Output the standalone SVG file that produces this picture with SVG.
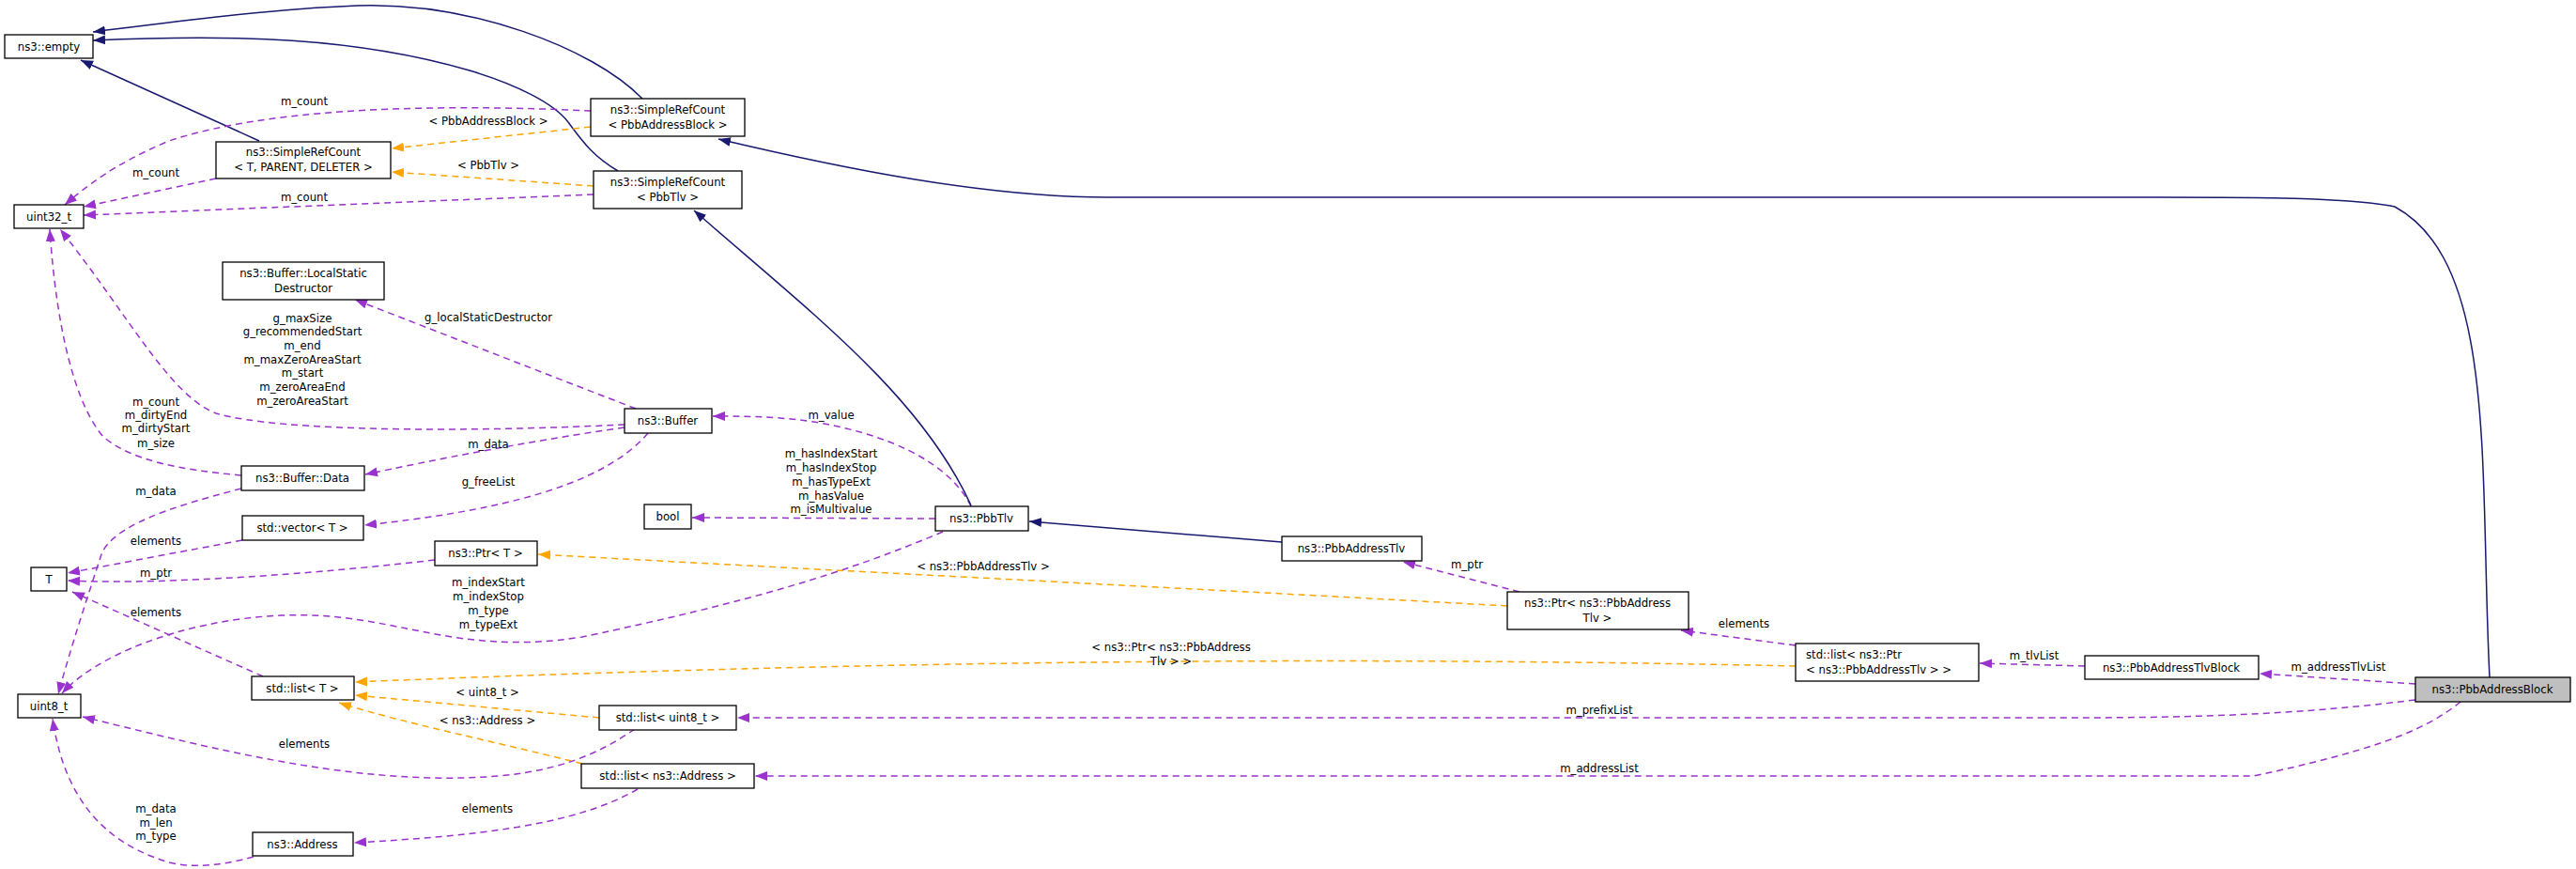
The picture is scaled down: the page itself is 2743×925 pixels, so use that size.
<svg xmlns="http://www.w3.org/2000/svg" width="2743" height="925" viewBox="0 0 2743 925">
<style>
text{font-family:"DejaVu Sans Condensed","DejaVu Sans",sans-serif;font-size:13px;fill:#000;text-anchor:middle}
.n rect{fill:#fff;stroke:#000;stroke-width:1.3}
.b{fill:none;stroke:#191970;stroke-width:1.5}
.p{fill:none;stroke:#9a32cd;stroke-width:1.5;stroke-dasharray:7,5}
.o{fill:none;stroke:#ffa500;stroke-width:1.5;stroke-dasharray:7,5}
</style>
<defs>
<marker id="mb" markerUnits="userSpaceOnUse" markerWidth="14" markerHeight="12" refX="13" refY="6" orient="auto"><path d="M0,1 L13,6 L0,11 Z" fill="#191970"/></marker>
<marker id="mp" markerUnits="userSpaceOnUse" markerWidth="14" markerHeight="12" refX="13" refY="6" orient="auto"><path d="M0,1 L13,6 L0,11 Z" fill="#9a32cd"/></marker>
<marker id="mo" markerUnits="userSpaceOnUse" markerWidth="14" markerHeight="12" refX="13" refY="6" orient="auto"><path d="M0,1 L13,6 L0,11 Z" fill="#ffa500"/></marker>
</defs>
<g id="edges">
<path class="b" marker-end="url(#mb)" d="M684,105 C630,50 500,2 380,6 C280,10 170,25 99,34"/>
<path class="b" marker-end="url(#mb)" d="M658,182 C630,165 620,150 605,130 C590,110 550,90 500,75 C380,40 250,36 99,43"/>
<path class="b" marker-end="url(#mb)" d="M276,150 L86,64"/>
<path class="o" marker-end="url(#mo)" d="M629,135 L417,158"/>
<path class="o" marker-end="url(#mo)" d="M632,198 L417,183"/>
<path class="p" marker-end="url(#mp)" d="M629,118 C500,112 300,110 180,150 C120,175 90,200 69,218"/>
<path class="p" marker-end="url(#mp)" d="M230,190 L89,220"/>
<path class="p" marker-end="url(#mp)" d="M632,207 L89,229"/>
<path class="p" marker-end="url(#mp)" d="M665,452 C500,460 300,460 230,440 C180,420 140,340 64,244"/>
<path class="p" marker-end="url(#mp)" d="M257,506 C190,500 140,490 110,465 C80,430 60,350 53,244"/>
<path class="p" marker-end="url(#mp)" d="M677,435 L378,319"/>
<path class="p" marker-end="url(#mp)" d="M665,455 C560,470 460,490 389,505"/>
<path class="p" marker-end="url(#mp)" d="M690,461 C640,520 520,545 388,559"/>
<path class="p" marker-end="url(#mp)" d="M257,520 C180,540 120,560 108,590 C95,630 75,690 62,739"/>
<path class="p" marker-end="url(#mp)" d="M258,575 L72,610"/>
<path class="p" marker-end="url(#mp)" d="M463,596 C300,615 150,622 72,618"/>
<path class="p" marker-end="url(#mp)" d="M280,720 L77,630"/>
<path class="p" marker-end="url(#mp)" d="M1004,566 C900,610 800,640 620,678 C480,700 420,650 300,655 C190,660 100,700 66,738"/>
<path class="p" marker-end="url(#mp)" d="M1034,539 C1010,490 940,460 860,448 C820,443 790,443 759,443"/>
<path class="p" marker-end="url(#mp)" d="M996,552 L737,551"/>
<path class="b" marker-end="url(#mb)" d="M1034,538 C980,420 860,330 739,224"/>
<path class="b" marker-end="url(#mb)" d="M1365,577 L1096,555"/>
<path class="o" marker-end="url(#mo)" d="M1605,645 C1300,628 900,608 573,590"/>
<path class="p" marker-end="url(#mp)" d="M1618,630 L1494,598"/>
<path class="p" marker-end="url(#mp)" d="M1912,687 L1790,671"/>
<path class="o" marker-end="url(#mo)" d="M1912,709 C1500,700 1000,700 378,726"/>
<path class="p" marker-end="url(#mp)" d="M2220,709 L2108,706"/>
<path class="p" marker-end="url(#mp)" d="M2572,728 L2406,717"/>
<path class="p" marker-end="url(#mp)" d="M2572,745 C2450,760 2350,764 2200,764 L785,764"/>
<path class="p" marker-end="url(#mp)" d="M2620,747 C2580,780 2520,800 2400,826 L804,826"/>
<path class="b" marker-end="url(#mb)" d="M2651,721 C2640,500 2660,280 2550,220 C2500,210 2400,210 2300,210 L1180,210 C1050,210 900,180 765,148"/>
<path class="o" marker-end="url(#mo)" d="M638,764 L378,740"/>
<path class="o" marker-end="url(#mo)" d="M620,813 C530,790 430,770 361,748"/>
<path class="p" marker-end="url(#mp)" d="M676,776 C620,815 560,830 460,828 C330,825 200,790 88,763"/>
<path class="p" marker-end="url(#mp)" d="M679,840 C610,880 500,890 377,897"/>
<path class="p" marker-end="url(#mp)" d="M270,912 C240,920 210,925 180,918 C120,900 70,860 56,765"/>
</g>
<g id="labels">
<text x="324" y="112">m_count</text>
<text x="520" y="133">&lt; PbbAddressBlock &gt;</text>
<text x="520" y="180">&lt; PbbTlv &gt;</text>
<text x="166" y="188">m_count</text>
<text x="324" y="214">m_count</text>
<text x="322" y="343">g_maxSize</text>
<text x="322" y="357">g_recommendedStart</text>
<text x="322" y="372">m_end</text>
<text x="322" y="387">m_maxZeroAreaStart</text>
<text x="322" y="401">m_start</text>
<text x="322" y="416">m_zeroAreaEnd</text>
<text x="322" y="431">m_zeroAreaStart</text>
<text x="520" y="342">g_localStaticDestructor</text>
<text x="166" y="432">m_count</text>
<text x="166" y="446">m_dirtyEnd</text>
<text x="166" y="460">m_dirtyStart</text>
<text x="166" y="476">m_size</text>
<text x="520" y="477">m_data</text>
<text x="520" y="517">g_freeList</text>
<text x="166" y="527">m_data</text>
<text x="166" y="580">elements</text>
<text x="166" y="614">m_ptr</text>
<text x="166" y="656">elements</text>
<text x="520" y="624">m_indexStart</text>
<text x="520" y="639">m_indexStop</text>
<text x="520" y="654">m_type</text>
<text x="520" y="669">m_typeExt</text>
<text x="885" y="446">m_value</text>
<text x="885" y="487">m_hasIndexStart</text>
<text x="885" y="502">m_hasIndexStop</text>
<text x="885" y="517">m_hasTypeExt</text>
<text x="885" y="532">m_hasValue</text>
<text x="885" y="546">m_isMultivalue</text>
<text x="1047" y="607">&lt; ns3::PbbAddressTlv &gt;</text>
<text x="1562" y="605">m_ptr</text>
<text x="1857" y="668">elements</text>
<text x="1247" y="693">&lt; ns3::Ptr&lt; ns3::PbbAddress</text>
<text x="1247" y="708">Tlv &gt; &gt;</text>
<text x="2166" y="702">m_tlvList</text>
<text x="2490" y="714">m_addressTlvList</text>
<text x="1703" y="760">m_prefixList</text>
<text x="1703" y="822">m_addressList</text>
<text x="519" y="741">&lt; uint8_t &gt;</text>
<text x="519" y="771">&lt; ns3::Address &gt;</text>
<text x="324" y="796">elements</text>
<text x="519" y="865">elements</text>
<text x="166" y="865">m_data</text>
<text x="166" y="880">m_len</text>
<text x="166" y="894">m_type</text>
</g>
<g id="n_empty" class="n"><rect x="5" y="37" width="94" height="25"/><text x="52" y="54">ns3::empty</text></g>
<g id="n_uint32" class="n"><rect x="15" y="218" width="74" height="25"/><text x="52" y="235">uint32_t</text></g>
<g id="n_srcT" class="n"><rect x="230" y="151" width="186" height="39"/><text x="323" y="166">ns3::SimpleRefCount</text><text x="323" y="182">&lt; T, PARENT, DELETER &gt;</text></g>
<g id="n_srcPAB" class="n"><rect x="629" y="105" width="164" height="40"/><text x="711" y="121">ns3::SimpleRefCount</text><text x="711" y="137">&lt; PbbAddressBlock &gt;</text></g>
<g id="n_srcTlv" class="n"><rect x="632" y="182" width="158" height="40"/><text x="711" y="198">ns3::SimpleRefCount</text><text x="711" y="214">&lt; PbbTlv &gt;</text></g>
<g id="n_lsd" class="n"><rect x="237" y="279" width="172" height="40"/><text x="323" y="295">ns3::Buffer::LocalStatic</text><text x="323" y="311">Destructor</text></g>
<g id="n_buffer" class="n"><rect x="665" y="435" width="93" height="26"/><text x="711" y="452">ns3::Buffer</text></g>
<g id="n_data" class="n"><rect x="257" y="496" width="131" height="26"/><text x="322" y="513">ns3::Buffer::Data</text></g>
<g id="n_vector" class="n"><rect x="258" y="549" width="129" height="26"/><text x="322" y="566">std::vector&lt; T &gt;</text></g>
<g id="n_T" class="n"><rect x="33" y="604" width="38" height="25"/><text x="52" y="621">T</text></g>
<g id="n_ptrT" class="n"><rect x="463" y="576" width="109" height="26"/><text x="517" y="593">ns3::Ptr&lt; T &gt;</text></g>
<g id="n_bool" class="n"><rect x="686" y="537" width="50" height="26"/><text x="711" y="554">bool</text></g>
<g id="n_listT" class="n"><rect x="268" y="720" width="109" height="25"/><text x="322" y="737">std::list&lt; T &gt;</text></g>
<g id="n_uint8" class="n"><rect x="19" y="739" width="67" height="25"/><text x="52" y="756">uint8_t</text></g>
<g id="n_listU8" class="n"><rect x="638" y="751" width="146" height="26"/><text x="711" y="768">std::list&lt; uint8_t &gt;</text></g>
<g id="n_listAddr" class="n"><rect x="619" y="813" width="184" height="26"/><text x="711" y="830">std::list&lt; ns3::Address &gt;</text></g>
<g id="n_addr" class="n"><rect x="269" y="886" width="107" height="25"/><text x="322" y="903">ns3::Address</text></g>
<g id="n_pbbtlv" class="n"><rect x="996" y="539" width="99" height="26"/><text x="1045" y="556">ns3::PbbTlv</text></g>
<g id="n_pat" class="n"><rect x="1365" y="571" width="149" height="26"/><text x="1439" y="588">ns3::PbbAddressTlv</text></g>
<g id="n_ptrPat" class="n"><rect x="1605" y="630" width="193" height="40"/><text x="1701" y="646">ns3::Ptr&lt; ns3::PbbAddress</text><text x="1701" y="662">Tlv &gt;</text></g>
<g id="n_listPtr" class="n"><rect x="1912" y="685" width="195" height="40"/><text x="1923" y="701" style="text-anchor:start">std::list&lt; ns3::Ptr</text><text x="1923" y="717" style="text-anchor:start">&lt; ns3::PbbAddressTlv &gt; &gt;</text></g>
<g id="n_patb" class="n"><rect x="2220" y="698" width="185" height="25"/><text x="2312" y="715">ns3::PbbAddressTlvBlock</text></g>
<g id="n_pab" class="n"><rect x="2572" y="721" width="165" height="26" style="fill:#bfbfbf"/><text x="2654" y="738">ns3::PbbAddressBlock</text></g>
</svg>
